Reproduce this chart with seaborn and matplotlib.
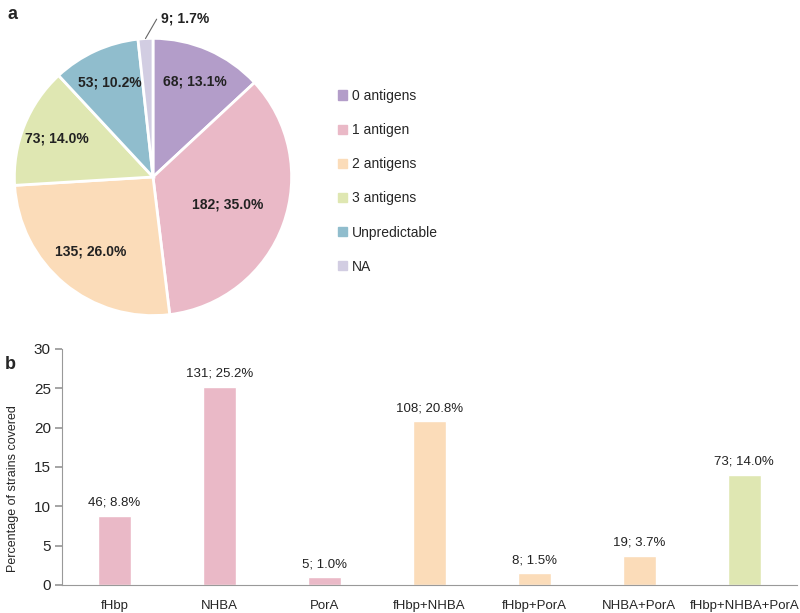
import numpy as np
import matplotlib
matplotlib.use("Agg")
import matplotlib.pyplot as plt
import seaborn as sns

# panel a: antigen coverage
pie_labels = ['0 antigens', '1 antigen', '2 antigens', '3 antigens', 'Unpredictable', 'NA']
pie_counts = [68, 182, 135, 73, 53, 9]
pie_pcts = [13.1, 35.0, 26.0, 14.0, 10.2, 1.7]
pie_colors = ['#b39dc9', '#eab9c7', '#fbdcb9', '#dfe7b2', '#90bdcd', '#d2cde2']

# panel b: antigen combinations
bar_cats = ['fHbp', 'NHBA', 'PorA', 'fHbp+NHBA', 'fHbp+PorA', 'NHBA+PorA', 'fHbp+NHBA+PorA']
bar_counts = [46, 131, 5, 108, 8, 19, 73]
bar_pcts = [8.8, 25.2, 1.0, 20.8, 1.5, 3.7, 14.0]
bar_colors = ['#eab9c7', '#eab9c7', '#eab9c7', '#fbdcb9', '#fbdcb9', '#fbdcb9', '#dfe7b2']

sns.set_theme(style="white")
plt.rcParams['font.family'] = ['Liberation Sans', 'DejaVu Sans']

fig = plt.figure(figsize=(8, 6.13), dpi=100)

### a. pie
ax1 = fig.add_axes([0.01625, 0.4829, 0.35, 0.4568])
wedges, _ = ax1.pie(pie_counts, colors=pie_colors, startangle=90, counterclock=False,
                    wedgeprops=dict(edgecolor='white', linewidth=2))
ax1.set_aspect('equal')
ax1.set_xlim(-1.01, 1.01)
ax1.set_ylim(-1.01, 1.01)
for w, n, p in zip(wedges, pie_counts, pie_pcts):
    ang = np.deg2rad((w.theta1 + w.theta2) / 2)
    txt = f'{n}; {p:.1f}%'
    if p < 5:
        # small slice gets an outside label with a leader line
        ax1.annotate(txt, xy=(np.cos(ang), np.sin(ang)),
                     xytext=(0.06, 1.14), fontsize=10, fontweight='bold', va='center', ha='left',
                     color='#222222',
                     arrowprops=dict(arrowstyle='-', color='#666666', lw=0.8, shrinkA=1, shrinkB=0,
                                     connectionstyle='angle,angleA=0,angleB=60,rad=0'))
    else:
        r = 0.57 if p > 30 else (0.7 if p > 20 else 0.75)
        ax1.text(r * np.cos(ang), r * np.sin(ang), txt, ha='center', va='center',
                 fontsize=10, fontweight='bold', color='#222222')

handles = [plt.Rectangle((0, 0), 1, 1, color=c) for c in pie_colors]
fig.legend(handles, pie_labels, loc='upper left', bbox_to_anchor=(338 / 800, 1 - 89 / 613),
           frameon=False, fontsize=10, labelspacing=1.45, handlelength=0.65,
           handleheight=0.65, handletextpad=0.36, borderpad=0, borderaxespad=0)
fig.text(0.01, 0.99, 'a', fontsize=13, fontweight='bold', va='top')

### b. bars
ax2 = fig.add_axes([0.0775, 0.0457, 0.9185, 0.385])
sns.barplot(x=bar_cats, y=bar_pcts, hue=bar_cats, palette=bar_colors, legend=False,
            width=0.31, saturation=1, ax=ax2)
ax2.set_ylim(0, 30)
ax2.set_xlim(-0.5, 6.5)
ax2.set_yticks(range(0, 31, 5))
ax2.set_ylabel('Percentage of strains covered', fontsize=9)
ax2.yaxis.set_label_coords(-0.058, 0.41)
for i, (n, p) in enumerate(zip(bar_counts, bar_pcts)):
    ax2.text(i, p + 0.9, f'{n}; {p:.1f}%', ha='center', va='bottom', fontsize=9.5, color='#222222')
for s in ['top', 'right']:
    ax2.spines[s].set_visible(False)
for s in ['left', 'bottom']:
    ax2.spines[s].set_color('#999999')
    ax2.spines[s].set_linewidth(0.8)
ax2.tick_params(axis='y', left=True, length=5, color='#999999', labelsize=11, pad=3)
ax2.tick_params(axis='x', bottom=False, labelsize=9.5, pad=5)
fig.text(0.006, 0.42, 'b', fontsize=13, fontweight='bold', va='top')

fig.savefig('out.png', dpi=100)
